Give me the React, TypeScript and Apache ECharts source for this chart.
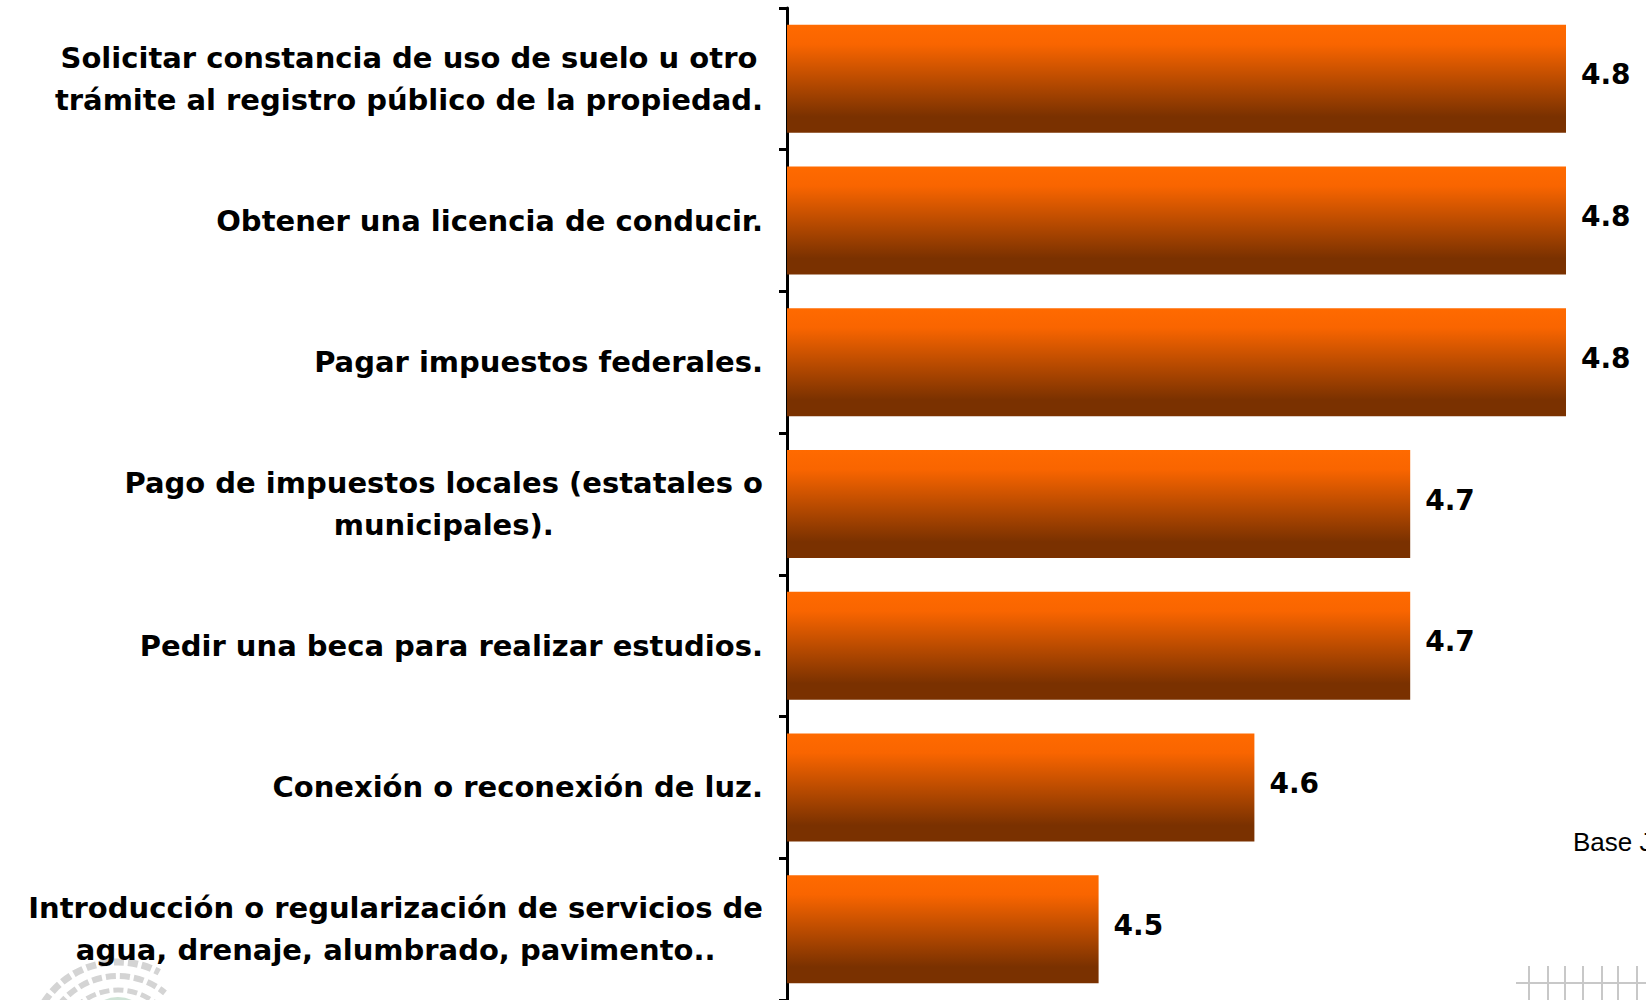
import React, { useEffect, useRef } from "react";
import * as echarts from "echarts";

const categories: string[] = [
  "Solicitar constancia de uso de suelo u otro\ntrámite al registro público de la propiedad.",
  "Obtener una licencia de conducir.",
  "Pagar impuestos federales.",
  "Pago de impuestos locales (estatales o\nmunicipales).",
  "Pedir una beca para realizar estudios.",
  "Conexión o reconexión de luz.",
  "Introducción o regularización de servicios de\nagua, drenaje, alumbrado, pavimento..",
];

const values: number[] = [4.8, 4.8, 4.8, 4.7, 4.7, 4.6, 4.5];

const axisMin = 4.3;
const axisMax = 4.8;

const footnote = "Base J";

const FONT = "DejaVu Sans";

export default function App() {
  const ref = useRef<HTMLDivElement>(null);

  useEffect(() => {
    if (!ref.current) return;
    const chart = echarts.init(ref.current, undefined, { renderer: "svg" });

    const deco: any[] = [];
    // decorative grid pattern, bottom right
    const vx = [1529, 1548, 1565, 1583, 1602, 1618, 1637];
    vx.forEach((x) => {
      deco.push({
        type: "line",
        shape: { x1: x, y1: 966, x2: x, y2: 1000 },
        style: { stroke: "#c8c8c8", lineWidth: 2 },
        silent: true,
      });
    });
    deco.push({
      type: "line",
      shape: { x1: 1516, y1: 983, x2: 1646, y2: 983 },
      style: { stroke: "#c8c8c8", lineWidth: 2 },
      silent: true,
    });
    // faint emblem, bottom left
    [
      { r: 88, s: 3.55, e: 5.2, w: 7 },
      { r: 74, s: 3.6, e: 5.4, w: 6 },
      { r: 60, s: 3.7, e: 5.5, w: 5 },
      { r: 46, s: 3.8, e: 5.6, w: 4 },
    ].forEach((a) => {
      deco.push({
        type: "arc",
        shape: { cx: 118, cy: 1050, r: a.r, startAngle: a.s, endAngle: a.e },
        style: { stroke: "#d4d4d4", lineWidth: a.w, fill: "none", lineDash: [10, 4] },
        silent: true,
      });
    });
    deco.push({
      type: "arc",
      shape: { cx: 118, cy: 1030, r: 30, startAngle: 3.5, endAngle: 5.9 },
      style: { stroke: "#cfe3d6", lineWidth: 6, fill: "none" },
      silent: true,
    });

    chart.setOption({
      animation: false,
      backgroundColor: "#ffffff",
      grid: { left: 787, right: 80, top: 8, bottom: -2, containLabel: false },
      xAxis: {
        type: "value",
        min: axisMin,
        max: axisMax,
        show: false,
        splitLine: { show: false },
      },
      yAxis: {
        type: "category",
        data: categories,
        inverse: true,
        axisLine: { show: true, lineStyle: { color: "#000", width: 3 } },
        axisTick: { show: true, length: 8, lineStyle: { color: "#000", width: 3 } },
        axisLabel: {
          interval: 0,
          margin: 24,
          formatter: (v: string) =>
            v
              .split("\n")
              .map((l) => `{c|${l}}`)
              .join("\n"),
          rich: {
            c: {
              align: "center",
              fontFamily: FONT,
              fontSize: 29,
              fontWeight: "bold",
              lineHeight: 42,
              color: "#000",
            },
          },
        },
      },
      series: [
        {
          type: "bar",
          data: values,
          barWidth: 108,
          itemStyle: {
            color: new echarts.graphic.LinearGradient(0, 0, 0, 1, [
              { offset: 0, color: "#FF6A00" },
              { offset: 0.18, color: "#F96500" },
              { offset: 0.85, color: "#7A3100" },
              { offset: 1, color: "#7A3100" },
            ]),
          },
          label: {
            show: true,
            position: "right",
            distance: 15,
            offset: [0, -4],
            formatter: (p: any) => Number(p.value).toFixed(1),
            fontFamily: FONT,
            fontSize: 28,
            fontWeight: "bold",
            color: "#000",
          },
        },
      ],
      graphic: [
        ...deco,
        {
          type: "text",
          left: 1573,
          top: 829,
          style: {
            text: footnote,
            fontFamily: "Liberation Sans",
            fontSize: 26,
            fill: "#000",
          },
          silent: true,
        },
      ],
    });

    return () => chart.dispose();
  }, []);

  return (
    <div
      ref={ref}
      style={{ position: "fixed", left: 0, top: 0, width: 1646, height: 1000 }}
    />
  );
}
